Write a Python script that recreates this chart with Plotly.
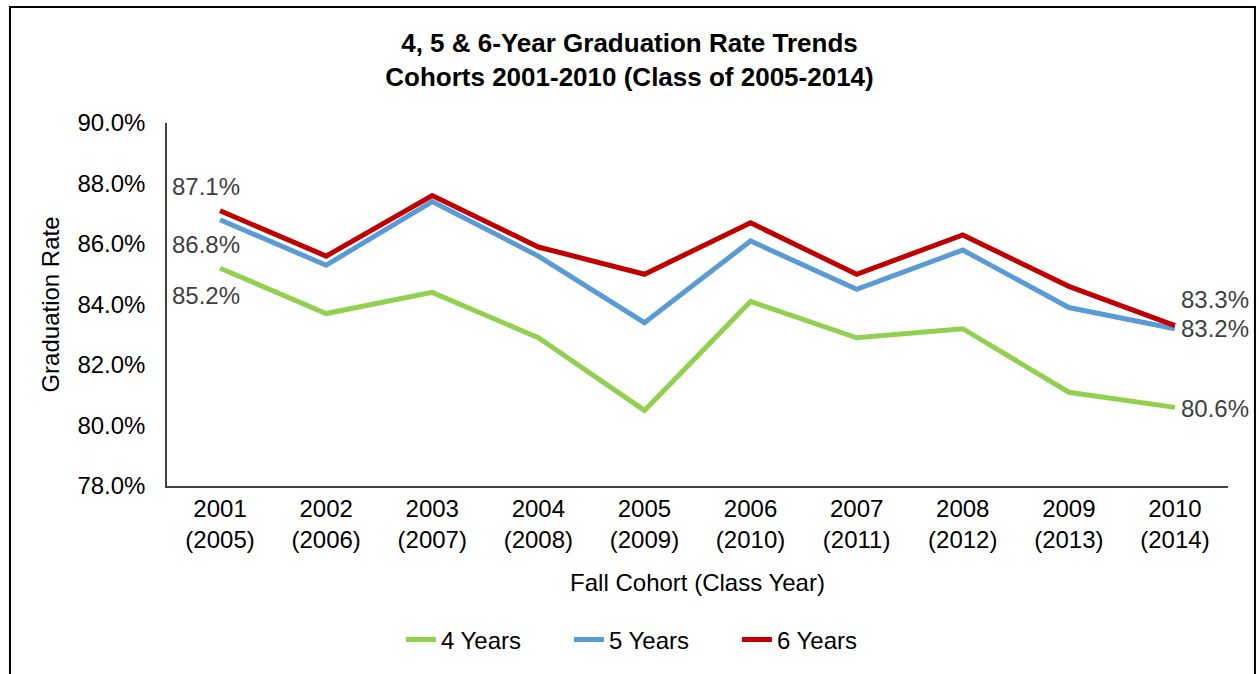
import plotly.graph_objects as go

cohorts = ["2001", "2002", "2003", "2004", "2005", "2006", "2007", "2008", "2009", "2010"]
class_years = ["2005", "2006", "2007", "2008", "2009", "2010", "2011", "2012", "2013", "2014"]
four_year = [85.2, 83.7, 84.4, 82.9, 80.5, 84.1, 82.9, 83.2, 81.1, 80.6]
five_year = [86.8, 85.3, 87.4, 85.6, 83.4, 86.1, 84.5, 85.8, 83.9, 83.2]
six_year = [87.1, 85.6, 87.6, 85.9, 85.0, 86.7, 85.0, 86.3, 84.6, 83.3]
y_ticks = [78, 80, 82, 84, 86, 88, 90]

categories = [f"{c}<br>({y})" for c, y in zip(cohorts, class_years)]

FONT = "Liberation Sans, Arial, sans-serif"
FS = 24
series = [
    ("4 Years", four_year, "#92D050"),
    ("5 Years", five_year, "#5B9BD5"),
    ("6 Years", six_year, "#C00000"),
]

fig = go.Figure()
for name, vals, color in series:
    fig.add_trace(go.Scatter(
        x=categories, y=vals, name=name, mode="lines",
        line=dict(color=color, width=5),
    ))

annotations = []
label_color = "#404040"
first_offsets = {"4 Years": -27, "5 Years": -25, "6 Years": 24}
for name, vals, color in series:
    annotations.append(dict(
        x=categories[0], y=vals[0], xref="x", yref="y",
        text=f"{vals[0]:.1f}%", showarrow=False, xanchor="left", yanchor="middle",
        xshift=-50, yshift=first_offsets[name],
        font=dict(family=FONT, size=FS, color=label_color),
    ))
last_offsets = {"4 Years": -1, "5 Years": 0, "6 Years": 26}
for name, vals, color in series:
    annotations.append(dict(
        x=categories[-1], y=vals[-1], xref="x", yref="y",
        text=f"{vals[-1]:.1f}%", showarrow=False, xanchor="left", yanchor="middle",
        xshift=4, yshift=last_offsets[name],
        font=dict(family=FONT, size=FS, color=label_color),
    ))

fig.update_layout(
    width=1259, height=674,
    margin=dict(l=167, r=31, t=123, b=188),
    paper_bgcolor="white", plot_bgcolor="white",
    font=dict(family=FONT, size=FS, color="#000000"),
    title=dict(
        text="<b>4, 5 & 6-Year Graduation Rate Trends<br>Cohorts 2001-2010 (Class of 2005-2014)</b>",
        x=0.5, xanchor="center", y=1 - 52 / 674, yanchor="middle",
        font=dict(family=FONT, size=26, color="#000000"),
    ),
    showlegend=True,
    legend=dict(
        orientation="h", x=0.458, xanchor="center", y=-0.424, yanchor="middle",
        font=dict(family=FONT, size=FS, color="#000000"),
        entrywidth=123, entrywidthmode="pixels",
        bgcolor="rgba(0,0,0,0)",
    ),
    annotations=annotations,
    shapes=[dict(
        type="rect", xref="paper", yref="paper",
        x0=-0.148, x1=1.0254, y0=-0.7, y1=1.3196,
        line=dict(color="#000000", width=2), fillcolor="rgba(0,0,0,0)", layer="below",
    )],
)

fig.update_xaxes(
    type="category", range=[-0.5, 9.5],
    showline=True, linecolor="#404040", linewidth=1.5,
    showgrid=False, ticks="", zeroline=False,
    tickfont=dict(family=FONT, size=FS, color="#000000"),
    title=dict(text="Fall Cohort (Class Year)", standoff=22,
               font=dict(family=FONT, size=FS, color="#000000")),
)
fig.update_yaxes(
    range=[78, 90], tickvals=y_ticks,
    ticktext=[f"{v:.1f}%" for v in y_ticks],
    showline=True, linecolor="#404040", linewidth=1.5,
    showgrid=False, zeroline=False,
    ticks="outside", ticklen=15, tickcolor="rgba(0,0,0,0)",
    tickfont=dict(family=FONT, size=FS, color="#000000"),
    title=dict(text="Graduation Rate", standoff=11,
               font=dict(family=FONT, size=FS, color="#000000")),
)

fig.write_html("out.html", config={"displayModeBar": False},
               post_script="document.body.style.margin='0';")
